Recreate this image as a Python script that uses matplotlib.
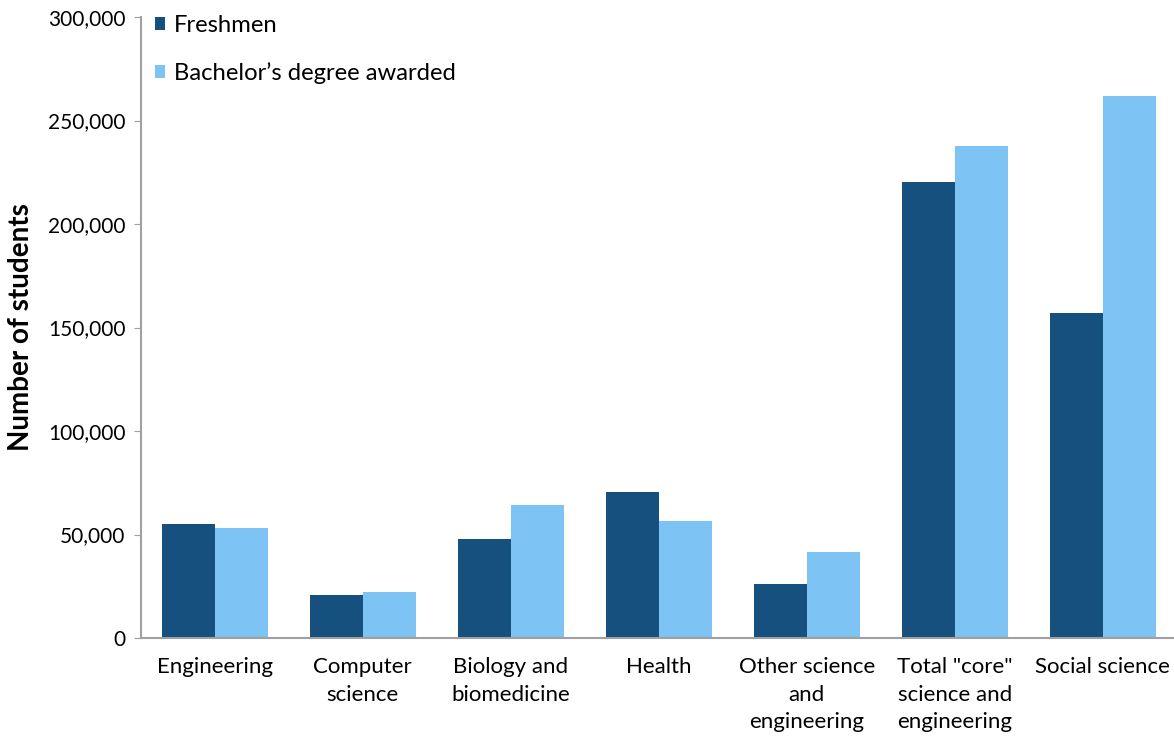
import numpy as np
import matplotlib.pyplot as plt
from matplotlib.ticker import FuncFormatter

categories = ["Engineering", "Computer\nscience", "Biology and\nbiomedicine", "Health",
              "Other science\nand\nengineering", "Total \"core\"\nscience and\nengineering",
              "Social science"]
freshmen = [55200, 20900, 47600, 70400, 26200, 220300, 157000]
bachelors = [52900, 22300, 64400, 56600, 41700, 237700, 261800]

plt.rcParams['font.family'] = ['Lato', 'DejaVu Sans']

fig = plt.figure(figsize=(11.74, 7.39), dpi=100)
ax = fig.add_axes([0.120, 101 / 739, 1033 / 1174, 621 / 739])

x = np.arange(len(categories))
w = 0.36
ax.bar(x - w / 2, freshmen, w, color="#16507E", label="Freshmen")
ax.bar(x + w / 2, bachelors, w, color="#7DC3F4", label="Bachelor\u2019s degree awarded")

ax.set_xlim(-0.5, 6.48)
ax.set_ylim(0, 300000)
ax.set_yticks(np.arange(0, 300001, 50000))
ax.yaxis.set_major_formatter(FuncFormatter(lambda v, p: f"{int(v):,}"))
ax.set_xticks(x)
ax.set_xticklabels(categories, fontsize=16, linespacing=1.45, va="top")
ax.tick_params(axis="x", length=0, pad=14)
ax.tick_params(axis="y", labelsize=15, length=5, color="#A0A0A0", pad=6)

for s in ["top", "right"]:
    ax.spines[s].set_visible(False)
for s in ["left", "bottom"]:
    ax.spines[s].set_color("#A0A0A0")
    ax.spines[s].set_linewidth(1.5)

ax.set_ylabel("Number of students", fontsize=20, fontweight="bold", labelpad=10)

ax.legend(loc="upper left", bbox_to_anchor=(-0.003, 1.03), frameon=False, fontsize=17.2,
          handlelength=0.45, handleheight=0.45, handletextpad=0.35, labelspacing=1.1,
          borderaxespad=0.3)

plt.savefig("out.png", dpi=100)
